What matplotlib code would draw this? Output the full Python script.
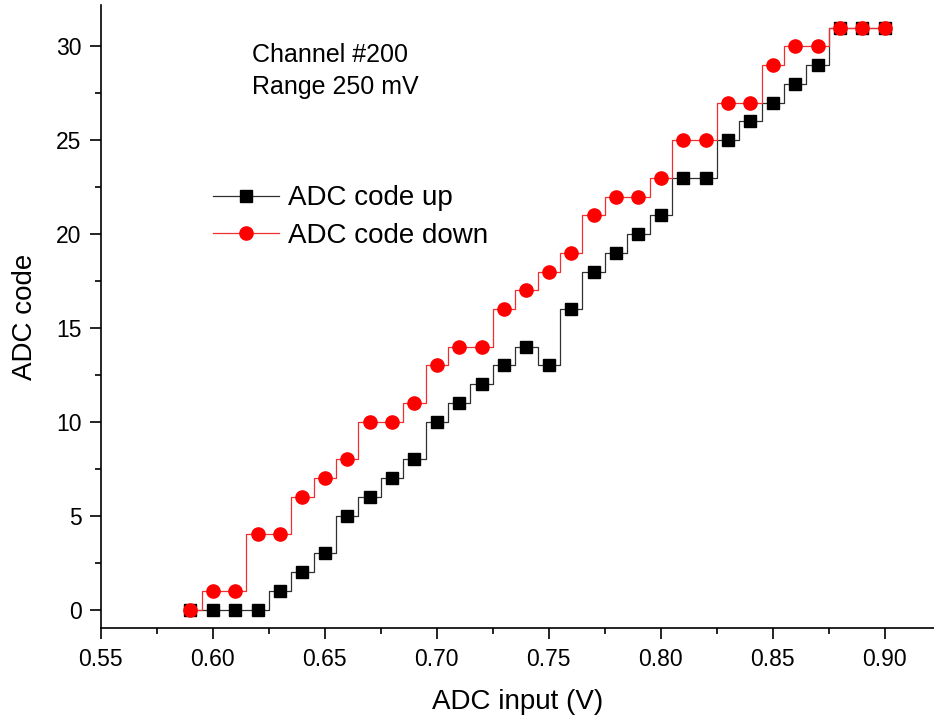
import matplotlib
matplotlib.use("Agg")
import matplotlib.pyplot as plt
from matplotlib.ticker import MultipleLocator

# ADC input voltages (V)
adc_input = [0.59, 0.60, 0.61, 0.62, 0.63, 0.64, 0.65, 0.66, 0.67, 0.68, 0.69,
             0.70, 0.71, 0.72, 0.73, 0.74, 0.75, 0.76, 0.77, 0.78, 0.79, 0.80,
             0.81, 0.82, 0.83, 0.84, 0.85, 0.86, 0.87, 0.88, 0.89, 0.90]
code_up = [0, 0, 0, 0, 1, 2, 3, 5, 6, 7, 8,
           10, 11, 12, 13, 14, 13, 16, 18, 19, 20, 21,
           23, 23, 25, 26, 27, 28, 29, 31, 31, 31]
code_down = [0, 1, 1, 4, 4, 6, 7, 8, 10, 10, 11,
             13, 14, 14, 16, 17, 18, 19, 21, 22, 22, 23,
             25, 25, 27, 27, 29, 30, 30, 31, 31, 31]

plt.rcParams["font.family"] = ["Liberation Sans", "DejaVu Sans"]

fig = plt.figure(figsize=(9.34, 7.23), dpi=100)
ax = fig.add_axes([0.108, 0.131, 0.892, 0.862])

ax.plot(adc_input, code_up, drawstyle="steps-mid", color="#303030", lw=0.9,
        marker="s", markersize=8.5, markerfacecolor="black",
        markeredgecolor="black", label="ADC code up")
ax.plot(adc_input, code_down, drawstyle="steps-mid", color="#f03030", lw=0.9,
        marker="o", markersize=9.5, markerfacecolor="red",
        markeredgecolor="red", label="ADC code down")

ax.set_xlim(0.55, 0.922)
ax.set_ylim(-1.0, 32.2)
ax.xaxis.set_major_locator(MultipleLocator(0.05))
ax.xaxis.set_minor_locator(MultipleLocator(0.025))
ax.yaxis.set_major_locator(MultipleLocator(5))
ax.yaxis.set_minor_locator(MultipleLocator(2.5))
ax.xaxis.set_major_formatter(plt.FuncFormatter(lambda v, p: f"{v:.2f}"))

ax.tick_params(which="major", direction="out", length=8, width=1.2,
               labelsize=16.5, pad=6)
ax.tick_params(which="minor", direction="out", length=4, width=1.2)
ax.spines[["top", "right"]].set_visible(False)
for s in ("left", "bottom"):
    ax.spines[s].set_linewidth(1.2)

ax.set_xlabel("ADC input (V)", fontsize=20, labelpad=13)
ax.set_ylabel("ADC code", fontsize=20, labelpad=13)

ax.text(0.6174, 29.15, "Channel #200", fontsize=18, va="baseline", ha="left")
ax.text(0.6174, 27.45, "Range 250 mV", fontsize=18, va="baseline", ha="left")

ax.legend(loc="upper left", bbox_to_anchor=(0.134, 0.7106), frameon=False,
          fontsize=20, handlelength=2.4, handletextpad=0.3, labelspacing=0.4,
          borderpad=0, borderaxespad=0)

fig.savefig("out.png", dpi=100)
